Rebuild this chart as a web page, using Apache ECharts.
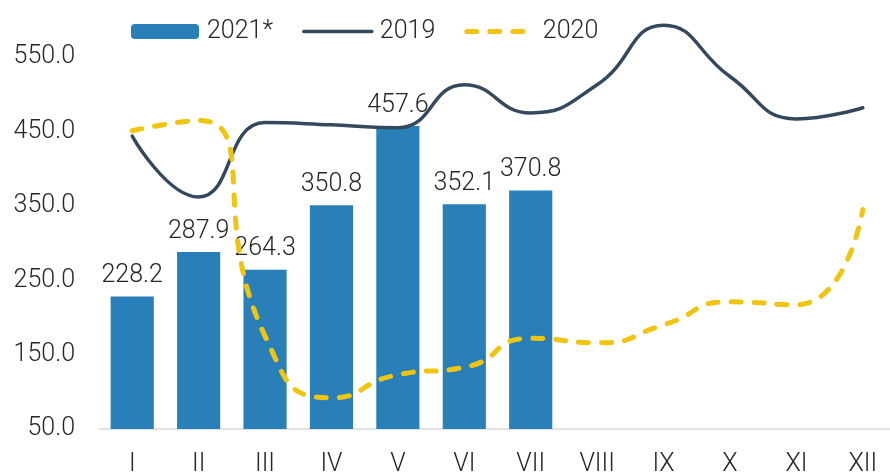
<!DOCTYPE html>
<html style="height: 100%">
<head>
    <meta charset="utf-8">
    <script src="https://fastly.jsdelivr.net/npm/echarts@6/dist/echarts.min.js"></script>
    <title>2019 / 2020 / 2021*</title>
</head>
<body style="height: 100%; margin: 0">
<div id="container" style="width: 890px; height: 472px"></div>

<script type="text/javascript">
    var months = ['I', 'II', 'III', 'IV', 'V', 'VI', 'VII', 'VIII', 'IX', 'X', 'XI', 'XII'];
    var data2021 = [228.2, 287.9, 264.3, 350.8, 457.6, 352.1, 370.8];
    var data2019 = [444, 362, 462, 459, 455, 513, 475, 513, 593, 524, 467, 482];
    var data2020 = [451, 465, 175, 92, 123, 133, 172, 166, 190, 221, 217, 345];

    var font = 'Roboto';
    var textColor = '#262626';
    var dash2020 = [10, 13];

    var myChart = echarts.init(document.getElementById('container'), null, {renderer: 'canvas'});

    var option = {
        backgroundColor: '#ffffff',
        animation: false,
        textStyle: {fontFamily: font},
        legend: {
            left: 126,
            top: 14,
            itemWidth: 68,
            itemHeight: 15,
            itemGap: 29,
            textStyle: {fontSize: 25, color: textColor, fontFamily: font, fontWeight: 300, padding: [0, 0, 0, 3]},
            data: [
                {name: '2021*'},
                {name: '2019', itemStyle: {opacity: 0}, lineStyle: {width: 3.5}},
                {name: '2020', itemStyle: {opacity: 0}, lineStyle: {width: 5, type: dash2020, cap: 'round'}}
            ]
        },
        grid: {
            left: 99,
            top: 20,
            width: 797,
            bottom: 43,
            containLabel: false,
            outerBoundsMode: 'none'
        },
        xAxis: {
            type: 'category',
            data: months,
            axisLine: {lineStyle: {color: '#d9d9d9', width: 1.5}},
            axisTick: {show: false},
            axisLabel: {fontSize: 25, color: textColor, fontFamily: font, fontWeight: 300, margin: 23}
        },
        yAxis: {
            type: 'value',
            min: 50,
            max: 600,
            interval: 100,
            splitLine: {show: false},
            axisLine: {show: false},
            axisTick: {show: false},
            axisLabel: {
                fontSize: 25, color: textColor, fontFamily: font, fontWeight: 300, margin: 24,
                padding: [6, 0, 0, 0],
                showMaxLabel: false,
                formatter: function (v) { return v.toFixed(1); }
            }
        },
        series: [
            {
                name: '2021*',
                type: 'bar',
                data: data2021,
                barCategoryGap: '35%',
                itemStyle: {color: '#2980b9'},
                label: {
                    show: true,
                    position: 'top',
                    distance: 8,
                    fontSize: 25,
                    fontFamily: font,
                    fontWeight: 300,
                    color: textColor,
                    formatter: function (p) { return p.value.toFixed(1); }
                },
                z: 1
            },
            {
                name: '2019',
                type: 'line',
                data: data2019,
                smooth: 0.5,
                symbol: 'none',
                lineStyle: {color: '#34495e', width: 3.5, cap: 'round'},
                itemStyle: {color: '#34495e'},
                z: 3
            },
            {
                name: '2020',
                type: 'line',
                data: data2020,
                smooth: 0.6,
                symbol: 'none',
                lineStyle: {color: '#f1c40f', width: 5, type: dash2020, cap: 'round'},
                itemStyle: {color: '#f1c40f'},
                z: 4
            }
        ]
    };

    myChart.setOption(option);
    window.addEventListener('resize', myChart.resize);
</script>
</body>
</html>
